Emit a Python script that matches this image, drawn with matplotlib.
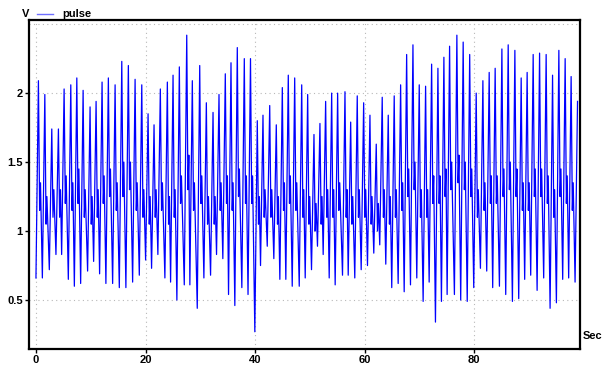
import matplotlib
matplotlib.use("Agg")
import matplotlib.pyplot as plt
from matplotlib.lines import Line2D

# Beat (systolic peak) times in seconds
peak_t = [0.42, 1.59, 2.86, 4.07, 5.11, 6.33, 7.43, 8.58, 9.85, 10.95, 12.04, 13.19, 14.42, 15.64, 16.84, 18.07,
          19.29, 20.44, 21.53, 22.68, 23.96, 25.00, 26.15, 27.50, 28.52, 29.87, 31.08, 32.30, 33.39, 34.54, 35.58, 36.73, 38.01, 39.14,
          40.38, 41.42, 42.65, 43.85, 44.95, 46.04, 47.21, 48.49, 49.58, 50.73, 51.82, 52.86, 53.96, 55.05, 56.39, 57.43, 58.63,
          59.80, 60.95, 62.10, 63.19, 64.29, 65.38, 66.55, 67.65, 68.80, 69.95, 71.11, 72.21, 73.36, 74.45, 75.49, 76.82, 77.97, 79.16,
          80.35, 81.57, 82.72, 83.81, 85.04, 86.19, 87.41, 88.56, 89.65, 90.75, 91.92, 93.12, 94.29, 95.44, 96.59, 97.68, 98.85]
# Peak voltages
peak_v = [2.09, 1.99, 1.74, 1.74, 2.03, 2.06, 2.11, 2.02, 1.90, 1.94, 2.08, 2.11, 2.06, 2.23, 2.20, 2.10,
          2.06, 1.85, 1.77, 2.03, 2.08, 2.13, 2.19, 2.42, 2.09, 2.20, 1.93, 1.86, 1.99, 2.14, 2.22, 2.33, 2.25, 2.25,
          1.80, 1.84, 1.91, 1.77, 2.04, 2.13, 2.11, 2.06, 1.99, 1.70, 1.78, 1.94, 2.00, 2.00, 2.01, 1.79, 1.98,
          1.93, 1.84, 1.63, 1.97, 1.84, 1.98, 2.06, 2.28, 2.35, 2.06, 2.05, 2.21, 2.18, 2.26, 2.34, 2.42, 2.37, 2.28,
          2.00, 2.09, 2.15, 2.18, 2.32, 2.35, 2.31, 2.11, 2.15, 2.28, 2.29, 2.28, 2.13, 2.31, 2.25, 2.12, 1.94]
# Trough (foot) voltage before each peak
trough_v = [0.66, 0.66, 0.72, 0.83, 0.83, 0.65, 0.60, 0.62, 0.71, 0.78, 0.69, 0.62, 0.62, 0.59, 0.59, 0.63,
            0.68, 0.79, 0.73, 0.83, 0.66, 0.63, 0.50, 0.61, 0.61, 0.44, 0.66, 0.68, 0.83, 0.80, 0.54, 0.46, 0.59, 0.54,
            0.27, 0.75, 0.89, 0.80, 0.65, 0.65, 0.60, 0.60, 0.66, 0.72, 0.89, 0.83, 0.66, 0.61, 0.68, 0.68, 0.66,
            0.72, 0.75, 0.84, 0.90, 0.76, 0.59, 0.62, 0.56, 0.61, 0.66, 0.49, 0.63, 0.34, 0.49, 0.54, 0.54, 0.50, 0.49,
            0.59, 0.73, 0.71, 0.59, 0.60, 0.54, 0.49, 0.51, 0.65, 0.68, 0.57, 0.66, 0.44, 0.48, 0.65, 0.66, 0.63]
# Dicrotic notch voltage after each peak
notch_v = [1.15, 1.05, 1.10, 1.10, 1.20, 1.15, 1.20, 1.10, 1.05, 1.10, 1.20, 1.25, 1.15, 1.25, 1.30, 1.15,
           1.10, 1.05, 1.10, 1.15, 1.05, 1.10, 1.20, 1.30, 1.15, 1.20, 1.05, 1.05, 1.15, 1.20, 1.15, 1.25, 1.20, 1.20,
           1.05, 1.10, 1.10, 1.05, 1.15, 1.20, 1.15, 1.10, 1.05, 1.00, 1.05, 1.10, 1.10, 1.15, 1.10, 1.05, 1.10,
           1.10, 1.05, 1.00, 1.10, 1.05, 1.10, 1.15, 1.25, 1.30, 1.10, 1.10, 1.20, 1.20, 1.25, 1.30, 1.35, 1.30, 1.25,
           1.10, 1.15, 1.20, 1.20, 1.25, 1.30, 1.25, 1.15, 1.15, 1.25, 1.25, 1.20, 1.10, 1.25, 1.20, 1.15, 1.05]
# Dicrotic (secondary) wave voltage after each notch
wave_v = [1.35, 1.25, 1.30, 1.30, 1.40, 1.35, 1.45, 1.30, 1.25, 1.30, 1.40, 1.45, 1.35, 1.50, 1.50, 1.35,
          1.30, 1.25, 1.30, 1.35, 1.25, 1.30, 1.40, 1.55, 1.35, 1.40, 1.25, 1.25, 1.35, 1.40, 1.35, 1.45, 1.40, 1.40,
          1.25, 1.30, 1.30, 1.25, 1.35, 1.40, 1.35, 1.30, 1.25, 1.20, 1.25, 1.30, 1.30, 1.35, 1.30, 1.25, 1.30,
          1.30, 1.25, 1.20, 1.30, 1.25, 1.30, 1.35, 1.45, 1.50, 1.30, 1.30, 1.40, 1.40, 1.45, 1.50, 1.55, 1.50, 1.45,
          1.30, 1.35, 1.40, 1.40, 1.45, 1.50, 1.45, 1.35, 1.35, 1.45, 1.45, 1.40, 1.30, 1.45, 1.40, 1.35, 1.25]

x_ticks = [0, 20, 40, 60, 80]
y_ticks = [0.5, 1, 1.5, 2]
y_tick_labels = ["0.5", "1", "1.5", "2"]
series_name = "pulse"

RISE = 0.45
NOTCH = 0.22
WAVE = 0.38

ts, vs = [], []
for t, p, tr, n, w in zip(peak_t, peak_v, trough_v, notch_v, wave_v):
    ts += [t - RISE, t, t + NOTCH, t + WAVE]
    vs += [tr, p, n, w]
ts = ts[:-2]
vs = vs[:-2]

plt.rcParams['font.family'] = ['Liberation Sans', 'DejaVu Sans']
fig = plt.figure(figsize=(6.10, 3.72), dpi=100)
ax = fig.add_axes([29/610, 1 - 349/372, 551/610, 329/372])

grid_kw = dict(color='#b8b8b8', lw=0.8, linestyle=(0, (1, 3)), zorder=0)
for yv in y_ticks + [2.5]:
    ax.axhline(yv, **grid_kw)
for xv in x_ticks:
    ax.axvline(xv, **grid_kw)

ax.plot(ts, vs, color='#0000ff', lw=0.9, zorder=2)

ax.set_xlim(-1.3, 99.3)
ax.set_ylim(0.145, 2.53)
ax.set_xticks(x_ticks)
ax.set_xticklabels([str(x) for x in x_ticks], fontsize=8, fontweight='bold')
ax.set_yticks(y_ticks)
ax.set_yticklabels(y_tick_labels, fontsize=8, fontweight='bold')
ax.tick_params(axis='both', length=3, width=1, pad=1.5, color='black')
for s in ax.spines.values():
    s.set_linewidth(1.6)
    s.set_color('black')

fig.text(22/610, 1 - 14/372, "V", fontsize=8, fontweight='bold', va='center', ha='left')
fig.add_artist(Line2D([37/610, 53/610], [1 - 14/372, 1 - 14/372], color='#6f6fff', lw=1.0,
                      transform=fig.transFigure))
fig.text(62/610, 1 - 14/372, series_name, fontsize=8, fontweight='bold', va='center', ha='left')
fig.text(583/610, 1 - 336/372, "Sec", fontsize=8, fontweight='bold', va='center', ha='left')

fig.savefig("out.png", dpi=100)
